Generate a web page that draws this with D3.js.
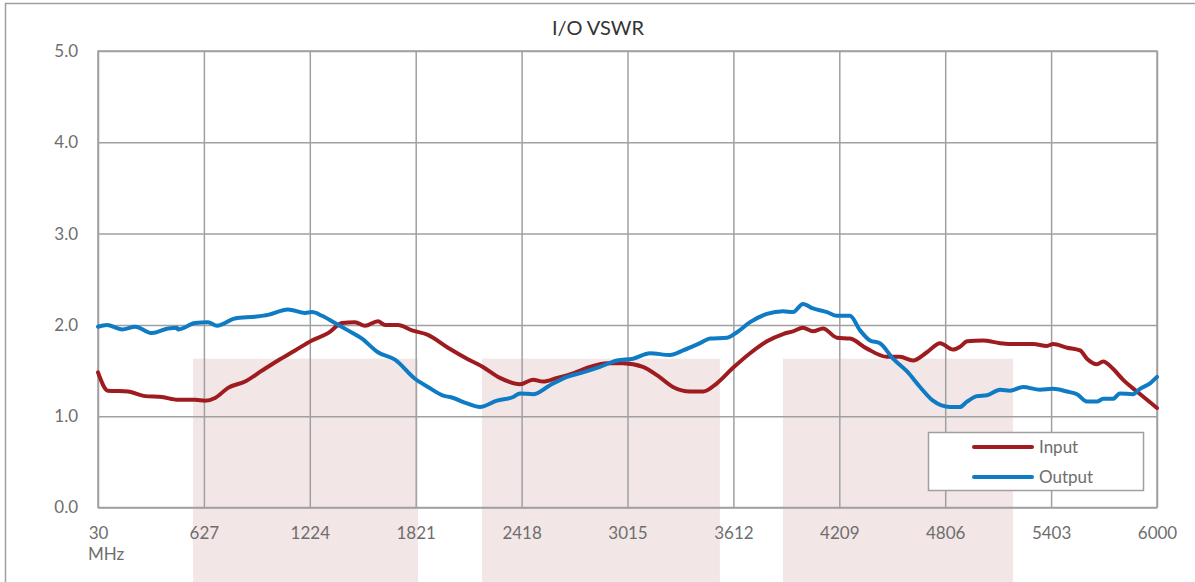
<!DOCTYPE html>
<html>
<head>
<meta charset="utf-8">
<script src="https://cdnjs.cloudflare.com/ajax/libs/d3/7.8.5/d3.min.js"></script>
<style>
  body { margin: 0; background: #fff; }
  text { font-family: Lato, "Open Sans", sans-serif; }
</style>
</head>
<body>
<div id="chart"></div>
<script>
// data
var title = "I/O VSWR";
var xTicks = [30, 627, 1224, 1821, 2418, 3015, 3612, 4209, 4806, 5403, 6000];
var yTicks = [0, 1, 2, 3, 4, 5];
var seriesNames = ["Input", "Output"];
var seriesColors = ["#9e1b20", "#0f7bc4"];

var inputFreq = [30, 86, 200, 295, 391, 481, 577, 633, 690, 763, 859, 955, 1045, 1141, 1236, 1327, 1406, 1479, 1535, 1608, 1648, 1721, 1800, 1890, 2003, 2110, 2200, 2296, 2409, 2482, 2539, 2618, 2708, 2804, 2899, 2990, 3102, 3181, 3271, 3367, 3441, 3519, 3610, 3706, 3801, 3892, 3948, 4004, 4061, 4117, 4196, 4269, 4365, 4478, 4551, 4624, 4703, 4777, 4850, 4889, 4929, 5019, 5115, 5211, 5301, 5380, 5414, 5493, 5566, 5605, 5662, 5696, 5752, 5808, 5887, 6000];
var inputVswr = [1.48, 1.28, 1.27, 1.22, 1.21, 1.18, 1.18, 1.17, 1.20, 1.31, 1.38, 1.50, 1.61, 1.72, 1.83, 1.91, 2.02, 2.03, 1.99, 2.04, 2.00, 2.00, 1.94, 1.89, 1.75, 1.63, 1.54, 1.42, 1.35, 1.40, 1.38, 1.42, 1.47, 1.54, 1.58, 1.58, 1.54, 1.45, 1.32, 1.27, 1.27, 1.36, 1.53, 1.69, 1.82, 1.90, 1.93, 1.97, 1.93, 1.96, 1.86, 1.85, 1.74, 1.65, 1.65, 1.61, 1.70, 1.80, 1.73, 1.76, 1.82, 1.83, 1.80, 1.79, 1.79, 1.77, 1.79, 1.75, 1.72, 1.63, 1.57, 1.60, 1.52, 1.40, 1.27, 1.09];

var outputFreq = [30, 80, 165, 240, 334, 425, 475, 481, 577, 650, 701, 802, 915, 988, 1101, 1197, 1236, 1293, 1366, 1439, 1518, 1608, 1704, 1817, 1890, 1986, 2014, 2110, 2183, 2279, 2370, 2409, 2482, 2578, 2674, 2764, 2860, 2956, 3046, 3142, 3255, 3328, 3424, 3480, 3576, 3632, 3706, 3801, 3892, 3948, 4004, 4061, 4140, 4196, 4269, 4326, 4382, 4438, 4512, 4591, 4664, 4737, 4833, 4889, 4929, 4985, 5042, 5115, 5171, 5245, 5340, 5414, 5493, 5549, 5605, 5662, 5696, 5752, 5791, 5865, 5904, 5961, 6000];
var outputVswr = [1.98, 2.00, 1.95, 1.98, 1.91, 1.96, 1.97, 1.95, 2.02, 2.03, 1.99, 2.07, 2.09, 2.11, 2.17, 2.13, 2.14, 2.10, 2.02, 1.94, 1.85, 1.70, 1.62, 1.41, 1.32, 1.22, 1.21, 1.14, 1.10, 1.17, 1.21, 1.25, 1.24, 1.34, 1.43, 1.48, 1.54, 1.61, 1.63, 1.69, 1.67, 1.72, 1.80, 1.85, 1.86, 1.92, 2.03, 2.12, 2.15, 2.14, 2.23, 2.18, 2.14, 2.10, 2.10, 1.94, 1.83, 1.80, 1.63, 1.49, 1.32, 1.17, 1.10, 1.10, 1.16, 1.22, 1.23, 1.29, 1.28, 1.32, 1.29, 1.30, 1.27, 1.24, 1.16, 1.16, 1.19, 1.19, 1.25, 1.24, 1.30, 1.36, 1.43];

// 频段 (shaded bands)
var bandStart = [566, 2195, 3891];
var bandEnd = [1834, 3536, 5188];
var bandTop = 1.63;

function Zip(freq, vswr) {
  var result = [];
  for (var i = 0; i < freq.length; i++) {
    result.push({ f: freq[i], v: vswr[i] });
  }
  return result;
}

function RenderChart(parentID) {
  var width = 1195;
  var height = 582;
  var left = 98, right = 1157, top = 51, bottom = 507.5;
  var grey = "#a0a0a2";
  var labelColor = "#6e6e6e";

  var svg = d3.select("#" + parentID)
    .append("svg")
    .attr("width", width)
    .attr("height", height);

  var x = d3.scaleLinear().domain([30, 6000]).range([left, right]);
  var y = d3.scaleLinear().domain([0, 5]).range([bottom, top]);

  //分组
  var gBand = svg.append("g");
  var gGrid = svg.append("g");
  var gPath = svg.append("g");
  var gLegend = svg.append("g");

  // frame
  svg.append("line").attr("x1", 5.5).attr("y1", 3).attr("x2", 5.5).attr("y2", height)
    .attr("stroke", grey).attr("stroke-width", 1.5);
  svg.append("line").attr("x1", 5).attr("y1", 3.5).attr("x2", width).attr("y2", 3.5)
    .attr("stroke", grey).attr("stroke-width", 1.5);

  // title
  svg.append("text")
    .attr("x", 598)
    .attr("y", 35)
    .attr("text-anchor", "middle")
    .attr("font-size", "20px")
    .attr("fill", "#333")
    .text(title);

  // bands
  for (var i = 0; i < bandStart.length; i++) {
    gBand.append("rect")
      .attr("x", x(bandStart[i]))
      .attr("y", y(bandTop))
      .attr("width", x(bandEnd[i]) - x(bandStart[i]))
      .attr("height", height - y(bandTop))
      .attr("fill", "#f3e6e6");
  }

  // grid + axes
  var xAxis = d3.axisBottom(x).tickValues(xTicks).tickSize(-(bottom - top)).tickSizeOuter(0)
    .tickFormat(d3.format("d"));
  var gx = gGrid.append("g").attr("transform", "translate(0," + bottom + ")").call(xAxis);
  gx.select(".domain").remove();
  gx.selectAll(".tick line").attr("stroke", grey).attr("stroke-width", 1.5);
  gx.selectAll(".tick text")
    .attr("y", 19)
    .attr("font-size", "17px")
    .attr("fill", labelColor);

  var yAxis = d3.axisLeft(y).tickValues(yTicks).tickSize(-(right - left)).tickSizeOuter(0)
    .tickFormat(d3.format(".1f"));
  var gy = gGrid.append("g").attr("transform", "translate(" + left + ",0)").call(yAxis);
  gy.select(".domain").remove();
  gy.selectAll(".tick line").attr("stroke", grey).attr("stroke-width", 1.5);
  gy.selectAll(".tick text")
    .attr("x", -20)
    .attr("font-size", "17px")
    .attr("fill", labelColor);

  gGrid.append("text")
    .attr("x", 88)
    .attr("y", 560)
    .attr("font-size", "17px")
    .attr("fill", labelColor)
    .text("MHz");

  gGrid.append("rect")
    .attr("x", left).attr("y", top)
    .attr("width", right - left).attr("height", bottom - top)
    .attr("fill", "none").attr("stroke", grey).attr("stroke-width", 1.5);

  // lines
  var series = [Zip(inputFreq, inputVswr), Zip(outputFreq, outputVswr)];
  var line = d3.line()
    .x(function(d) { return x(d.f); })
    .y(function(d) { return y(d.v); })
    .curve(d3.curveMonotoneX);
  for (var i = 0; i < series.length; i++) {
    gPath.append("path")
      .datum(series[i])
      .attr("d", line)
      .attr("fill", "none")
      .attr("stroke", seriesColors[i])
      .attr("stroke-width", 4)
      .attr("stroke-linejoin", "round")
      .attr("stroke-linecap", "round");
  }

  // legend
  gLegend.append("rect")
    .attr("x", 928.5).attr("y", 432.5)
    .attr("width", 215).attr("height", 58)
    .attr("fill", "#fff").attr("stroke", grey).attr("stroke-width", 1.5);
  for (var i = 0; i < seriesNames.length; i++) {
    var ly = 447 + i * 30;
    gLegend.append("line")
      .attr("x1", 974).attr("y1", ly).attr("x2", 1032).attr("y2", ly)
      .attr("stroke", seriesColors[i]).attr("stroke-width", 4)
      .attr("stroke-linecap", "round");
    gLegend.append("text")
      .attr("x", 1039)
      .attr("y", ly)
      .attr("dy", "0.35em")
      .attr("font-size", "17px")
      .attr("fill", labelColor)
      .text(seriesNames[i]);
  }
}

RenderChart("chart");
</script>
</body>
</html>
